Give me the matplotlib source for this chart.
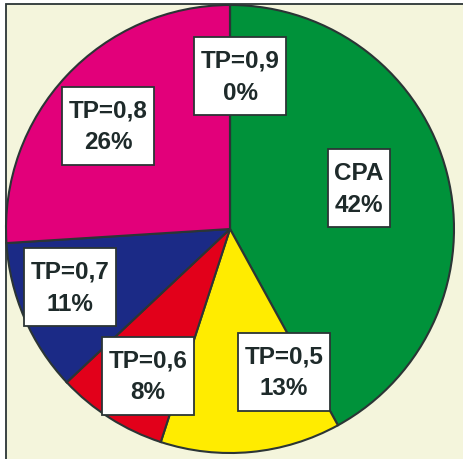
import matplotlib.pyplot as plt
from matplotlib.patches import Rectangle

# data
labels = ["CPA", "TP=0,5", "TP=0,6", "TP=0,7", "TP=0,8", "TP=0,9"]
shares = [42, 13, 8, 11, 26, 0]
colors = ["#00923a", "#ffec00", "#e2001a", "#1b2a86", "#e2007a", "#ffffff"]

# label box centres (data units, pie radius = 1)
label_pos = [(0.576, 0.183), (0.241, -0.638), (-0.366, -0.656),
             (-0.714, -0.259), (-0.545, 0.460), (0.045, 0.683)]

W, H = 463, 460
cx, cy, r = 230, 230, 224

fig = plt.figure(figsize=(W / 100, H / 100), dpi=100)
fig.patch.set_facecolor("white")

# cream frame
fig.patches.append(Rectangle((6 / W, -0.1), 1.2, 1 - 5 / H + 0.1,
                             transform=fig.transFigure, facecolor="#f4f5dc",
                             edgecolor="#2b3535", linewidth=1.3, zorder=-10))

ax = fig.add_axes([0, 0, 1, 1])
ax.patch.set_visible(False)

ax.pie(shares, colors=colors, startangle=90, counterclock=False, radius=1,
       wedgeprops=dict(edgecolor="#2b3535", linewidth=1.5))

ax.set_xlim(-cx / r, (W - cx) / r)
ax.set_ylim(-(H - cy) / r, cy / r)
ax.set_aspect("equal")
ax.axis("off")

for name, val, (x, y) in zip(labels, shares, label_pos):
    ax.text(x, y, f"{name}\n{val}%", ha="center", va="center",
            fontsize=17.5, fontweight="bold", family="Liberation Sans",
            color="#1e2a2a", linespacing=1.5,
            bbox=dict(boxstyle="square,pad=0.26", facecolor="white",
                      edgecolor="#2b3535", linewidth=1.3, mutation_aspect=1.8))

fig.savefig("out.png", dpi=100)
